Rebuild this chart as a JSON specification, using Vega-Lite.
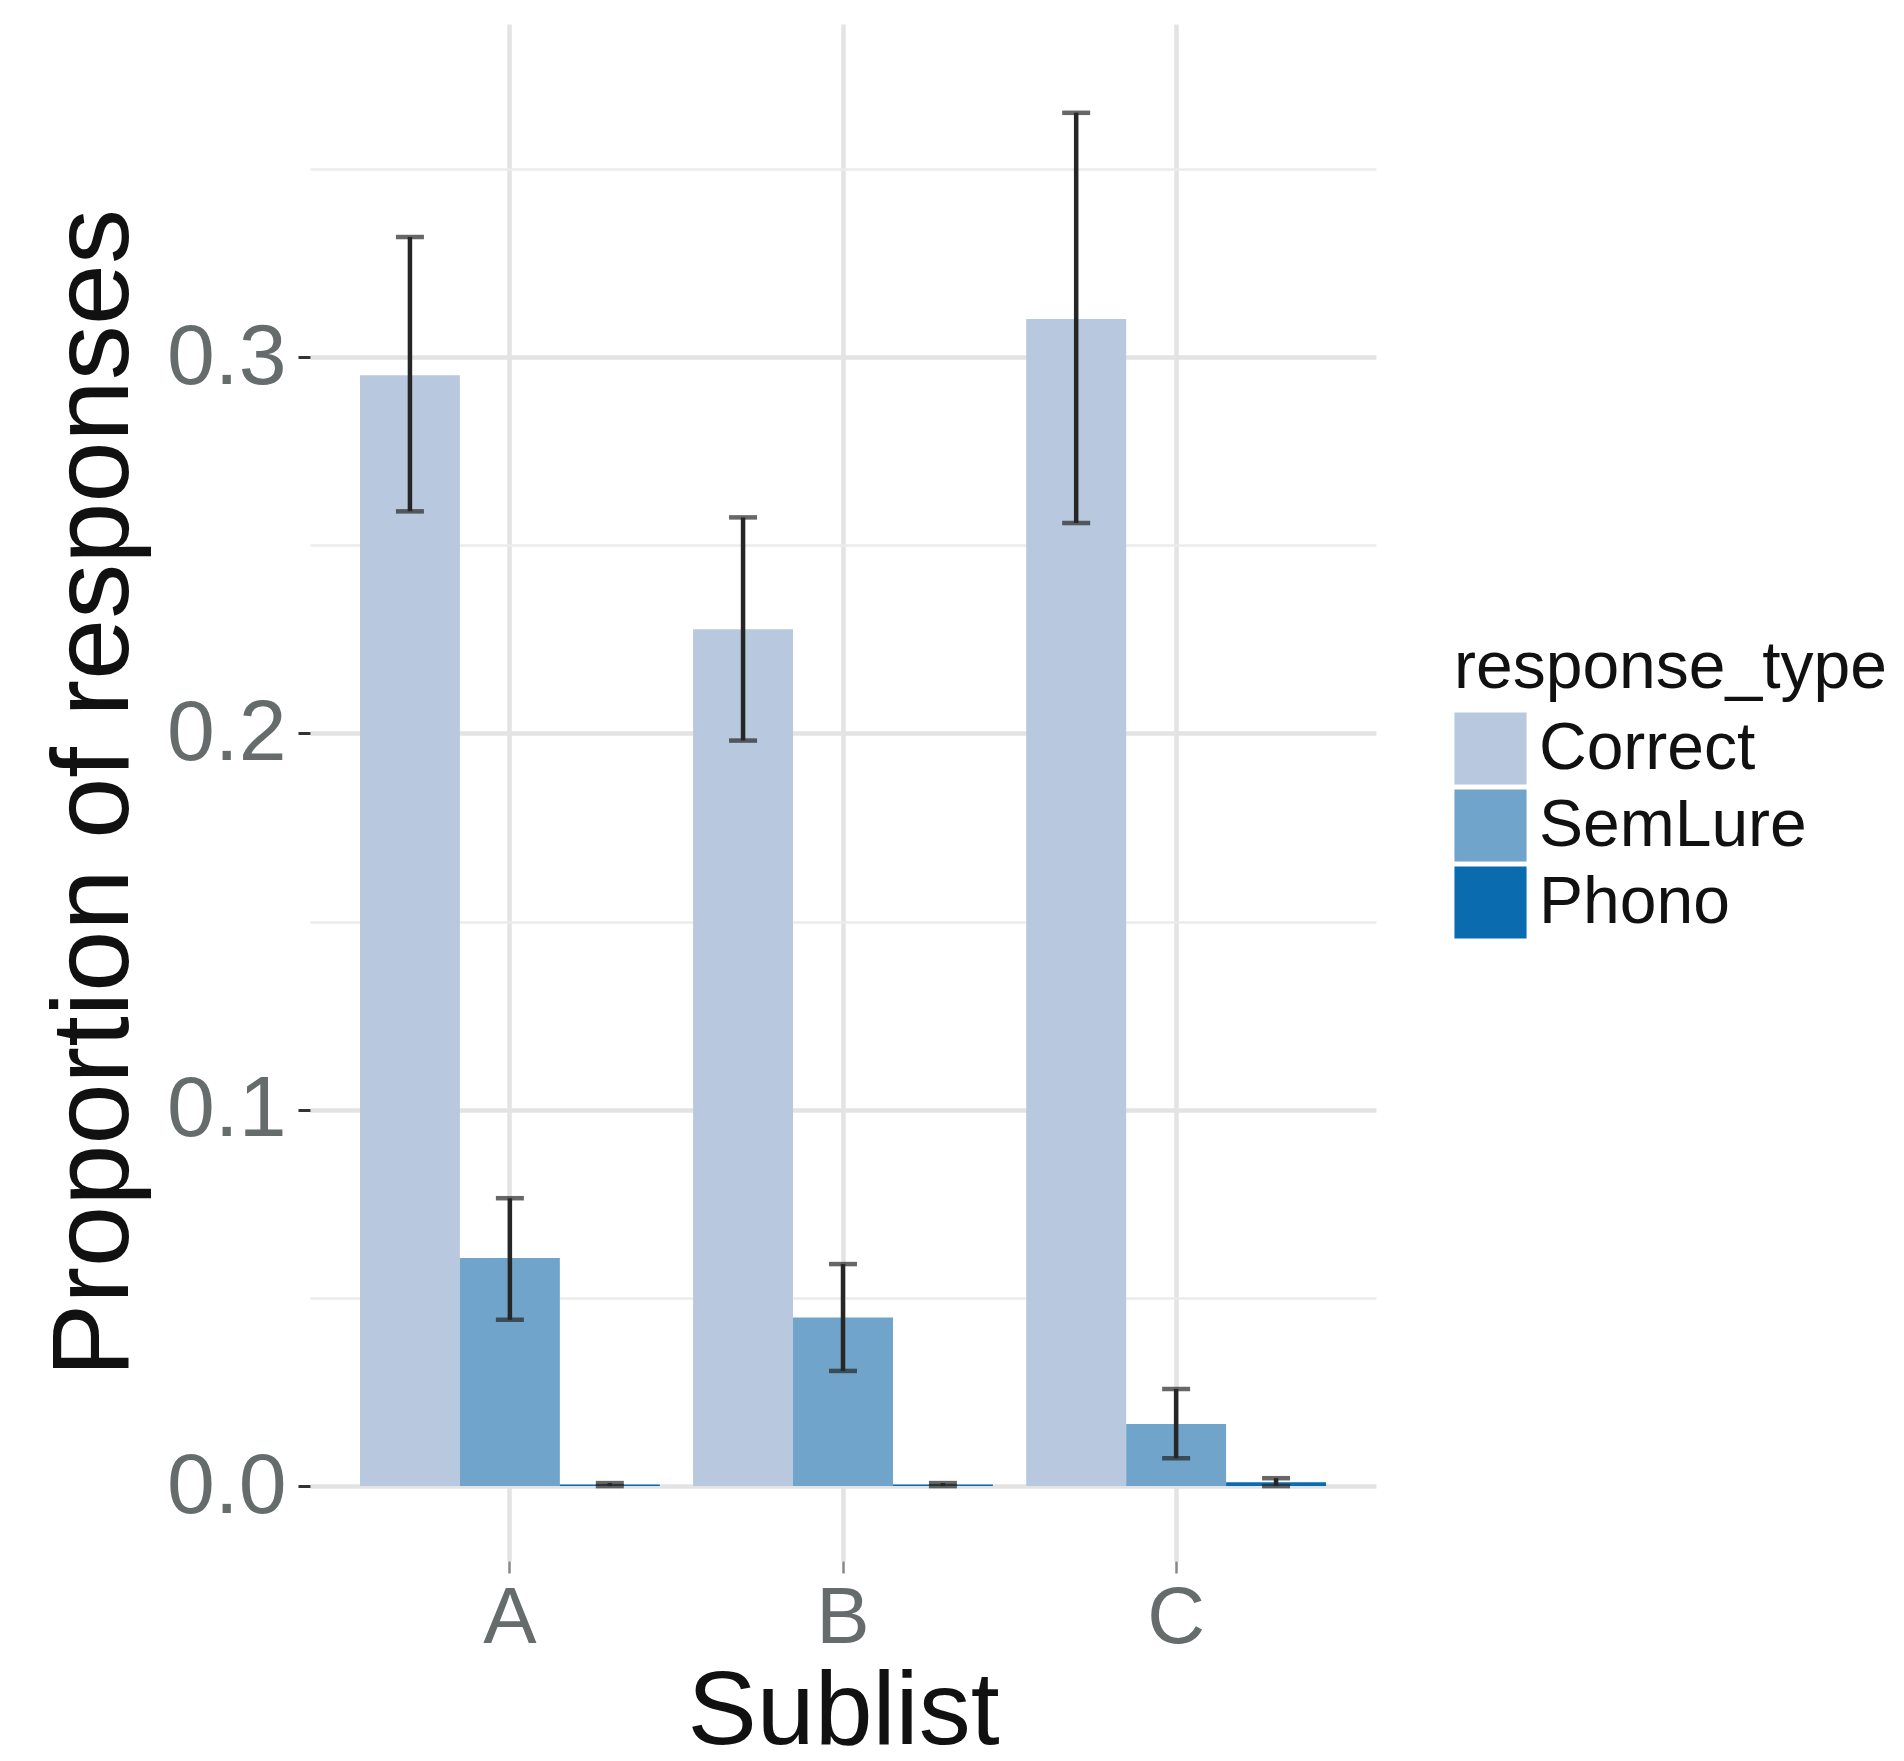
{
  "$schema": "https://vega.github.io/schema/vega-lite/v6.json",
  "autosize": "none",
  "width": 1066,
  "height": 1537,
  "padding": {"left": 310, "top": 24, "right": 528, "bottom": 200},
  "background": "white",
  "config": {
    "view": {"stroke": null},
    "font": "Liberation Sans"
  },
  "data": {
    "values": [
      {"Sublist": "A", "response_type": "Correct", "prop": 0.2952, "lo": 0.2590, "hi": 0.3319},
      {"Sublist": "A", "response_type": "SemLure", "prop": 0.0606, "lo": 0.0442, "hi": 0.0765},
      {"Sublist": "A", "response_type": "Phono", "prop": 0.0004, "lo": 0.0, "hi": 0.0008},
      {"Sublist": "B", "response_type": "Correct", "prop": 0.2277, "lo": 0.1981, "hi": 0.2574},
      {"Sublist": "B", "response_type": "SemLure", "prop": 0.0448, "lo": 0.0306, "hi": 0.0590},
      {"Sublist": "B", "response_type": "Phono", "prop": 0.0004, "lo": 0.0, "hi": 0.0008},
      {"Sublist": "C", "response_type": "Correct", "prop": 0.3101, "lo": 0.2559, "hi": 0.3649},
      {"Sublist": "C", "response_type": "SemLure", "prop": 0.0165, "lo": 0.0074, "hi": 0.0258},
      {"Sublist": "C", "response_type": "Phono", "prop": 0.0010, "lo": 0.0, "hi": 0.0021}
    ]
  },
  "encoding": {
    "x": {
      "field": "Sublist",
      "type": "nominal",
      "scale": {"paddingInner": 0.1, "paddingOuter": 0.15},
      "axis": {
        "title": "Sublist",
        "titleFontSize": 104,
        "titleFontWeight": "normal",
        "titleColor": "#111111",
        "titlePadding": 3,
        "labelAngle": 0,
        "labelFontSize": 80,
        "labelColor": "#666b6b",
        "labelPadding": 6,
        "domain": false,
        "ticks": true,
        "tickSize": 12,
        "tickWidth": 2.5,
        "tickColor": "#888888",
        "bandPosition": 0.5,
        "grid": true,
        "gridColor": "#e3e3e3",
        "gridWidth": 4.5
      }
    },
    "xOffset": {
      "field": "response_type",
      "type": "nominal",
      "sort": ["Correct", "SemLure", "Phono"],
      "scale": {"paddingInner": 0, "paddingOuter": 0}
    }
  },
  "layer": [
    {
      "mark": {"type": "bar"},
      "encoding": {
        "y": {
          "field": "prop",
          "type": "quantitative",
          "scale": {"domain": [-0.0199, 0.3885], "nice": false, "zero": false},
          "axis": {
            "title": "Proportion of responses",
            "titleFontSize": 110,
            "titleFontWeight": "normal",
            "titleColor": "#111111",
            "titlePadding": 16,
            "values": [0, 0.05, 0.1, 0.15, 0.2, 0.25, 0.3, 0.35],
            "labelExpr": "round(datum.value*20) % 2 == 1 ? '' : format(datum.value, '.1f')",
            "labelFontSize": 86,
            "labelColor": "#666b6b",
            "labelPadding": 12,
            "domain": false,
            "tickSize": 12,
            "tickWidth": 3,
            "tickColor": "#333333",
            "tickOpacity": {"condition": {"test": "round(datum.value*20) % 2 == 1", "value": 0}, "value": 1},
            "grid": true,
            "gridColor": {"condition": {"test": "round(datum.value*20) % 2 == 1", "value": "#ebebeb"}, "value": "#e3e3e3"},
            "gridWidth": {"condition": {"test": "round(datum.value*20) % 2 == 1", "value": 2.5}, "value": 4.5}
          }
        },
        "color": {
          "field": "response_type",
          "type": "nominal",
          "sort": ["Correct", "SemLure", "Phono"],
          "scale": {"domain": ["Correct", "SemLure", "Phono"], "range": ["#b8c8de", "#70a4ca", "#0a6caf"]},
          "legend": {
            "title": "response_type",
            "orient": "none",
            "legendX": 1144,
            "legendY": 612,
            "titleFontSize": 66,
            "titleFontWeight": "normal",
            "titleColor": "#111111",
            "titlePadding": 10,
            "titleLimit": 0,
            "labelFontSize": 66,
            "labelColor": "#111111",
            "labelOffset": 12,
            "labelLimit": 0,
            "symbolType": "square",
            "symbolSize": 5200,
            "symbolStrokeWidth": 0,
            "rowPadding": 4
          }
        }
      }
    },
    {
      "mark": {"type": "rule", "color": "#262626", "strokeWidth": 4.5},
      "encoding": {
        "y": {"field": "lo", "type": "quantitative"},
        "y2": {"field": "hi"}
      }
    },
    {
      "mark": {"type": "tick", "color": "#262626", "thickness": 4.5, "size": 28},
      "encoding": {
        "y": {"field": "lo", "type": "quantitative"}
      }
    },
    {
      "mark": {"type": "tick", "color": "#262626", "thickness": 4.5, "size": 28},
      "encoding": {
        "y": {"field": "hi", "type": "quantitative"}
      }
    }
  ]
}
